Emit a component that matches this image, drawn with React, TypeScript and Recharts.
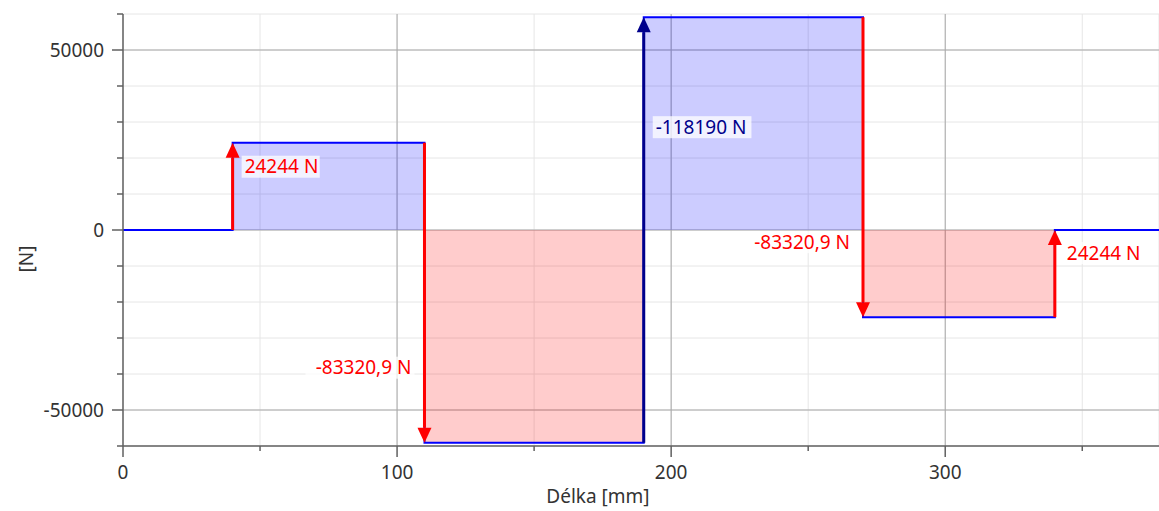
import { ComposedChart, Area, Line, XAxis, YAxis, CartesianGrid, ReferenceLine } from 'recharts';

// shear force diagram, step points along the beam
const stepX = [0, 40, 110, 190, 270, 340, 378];
const shearN = [0, 24244, -59077, 59113, -24208, 0, 0];

// point loads (arrows) at stepX[1..5]
const forceText = ['24244 N', '-83320,9 N', '-118190 N', '-83320,9 N', '24244 N'];
const forceColor = ['#ff0000', '#ff0000', '#00008b', '#ff0000', '#ff0000'];
// label placement relative to arrow head (px)
const labelSide = ['right', 'left', 'right', 'left', 'right'];
const labelDy = [24, -75, 110, -75, 23];

const xTicks = [0, 50, 100, 150, 200, 250, 300, 350];
const xMajor = [0, 100, 200, 300];
const yTicks = [-60000, -50000, -40000, -30000, -20000, -10000, 0, 10000, 20000, 30000, 40000, 50000, 60000];
const yMajor = [-50000, 0, 50000];

const data = stepX.map((x, i) => ({
  x,
  v: shearN[i],
  pos: Math.max(shearN[i], 0),
  neg: Math.min(shearN[i], 0),
}));

const FONT = '"Noto Sans", sans-serif';
const FS = 19;
const AXIS = '#606060';

const XTick = (p: any) => {
  const major = xMajor.includes(p.payload.value);
  return (
    <g>
      <line x1={p.x} y1={p.y} x2={p.x} y2={p.y + (major ? 11 : 5)} stroke={AXIS} strokeWidth={1.5} />
      {major && (
        <text x={p.x} y={p.y + 33} textAnchor="middle" fontSize={FS} fill="#333" fontFamily={FONT}>
          {p.payload.value}
        </text>
      )}
    </g>
  );
};

const YTick = (p: any) => {
  const major = yMajor.includes(p.payload.value);
  return (
    <g>
      <line x1={p.x - (major ? 11 : 6)} y1={p.y} x2={p.x} y2={p.y} stroke={AXIS} strokeWidth={1.5} />
      {major && (
        <text x={p.x - 19} y={p.y} dy="0.35em" textAnchor="end" fontSize={FS} fill="#333" fontFamily={FONT}>
          {p.payload.value}
        </text>
      )}
    </g>
  );
};

const makeArrow = (i: number) => (p: any) => {
  const { x1, y1, x2, y2 } = p;
  const color = forceColor[i];
  const up = y2 < y1;
  const head = 15;
  const hw = 7;
  const base = up ? y2 + head : y2 - head;
  const right = labelSide[i] === 'right';
  const tx = right ? x2 + 12 : x2 - 13;
  const ty = y2 + labelDy[i];
  const w = forceText[i].length * 10.3 + 6;
  return (
    <g>
      <line x1={x1} y1={y1} x2={x2} y2={base} stroke={color} strokeWidth={3} />
      <polygon points={`${x2},${y2} ${x2 - hw},${base} ${x2 + hw},${base}`} fill={color} />
      <rect x={right ? tx - 3 : tx - w + 3} y={ty - 11} width={w} height={22} fill="#ffffff" fillOpacity={0.75} />
      <text x={tx} y={ty} dy="0.35em" textAnchor={right ? 'start' : 'end'} fontSize={FS} fill={color} fontFamily={FONT}>
        {forceText[i]}
      </text>
    </g>
  );
};

export default function App() {
  return (
    <div style={{ position: 'absolute', left: 0, top: 0, fontFamily: FONT }}>
      <ComposedChart width={1159} height={511} data={data} margin={{ top: 14, right: 0, bottom: 0, left: 0 }}>
        <CartesianGrid stroke="#e6e6e6" />
        <CartesianGrid stroke="#a8a8a8" horizontalValues={yMajor} verticalValues={[100, 200, 300]} />
        <XAxis
          dataKey="x"
          type="number"
          domain={[0, 378]}
          ticks={xTicks}
          allowDataOverflow
          height={65}
          tickSize={0}
          tickMargin={0}
          tickLine={false}
          tick={<XTick />}
          axisLine={{ stroke: AXIS, strokeWidth: 1.5 }}
          label={() => (
            <text x={598} y={503} textAnchor="middle" fontSize={FS} fill="#333" fontFamily={FONT}>
              Délka [mm]
            </text>
          )}
        />
        <YAxis
          type="number"
          domain={[-60000, 60000]}
          ticks={yTicks}
          allowDataOverflow
          width={123}
          tickSize={0}
          tickMargin={0}
          tickLine={false}
          tick={<YTick />}
          axisLine={{ stroke: AXIS, strokeWidth: 1.5 }}
          label={() => (
            <text x={33} y={259} transform="rotate(-90 33 259)" textAnchor="middle" fontSize={FS} fill="#333" fontFamily={FONT}>
              [N]
            </text>
          )}
        />
        <Area type="stepAfter" dataKey="pos" stroke="none" fill="#0000ff" fillOpacity={0.2} isAnimationActive={false} />
        <Area type="stepAfter" dataKey="neg" stroke="none" fill="#ff0000" fillOpacity={0.2} isAnimationActive={false} />
        <Line type="stepAfter" dataKey="v" stroke="#0000ff" strokeWidth={2} dot={false} isAnimationActive={false} />
        {forceText.map((_, i) => (
          <ReferenceLine
            key={i}
            segment={[
              { x: stepX[i + 1], y: shearN[i] },
              { x: stepX[i + 1], y: shearN[i + 1] },
            ]}
            shape={makeArrow(i)}
          />
        ))}
      </ComposedChart>
    </div>
  );
}
